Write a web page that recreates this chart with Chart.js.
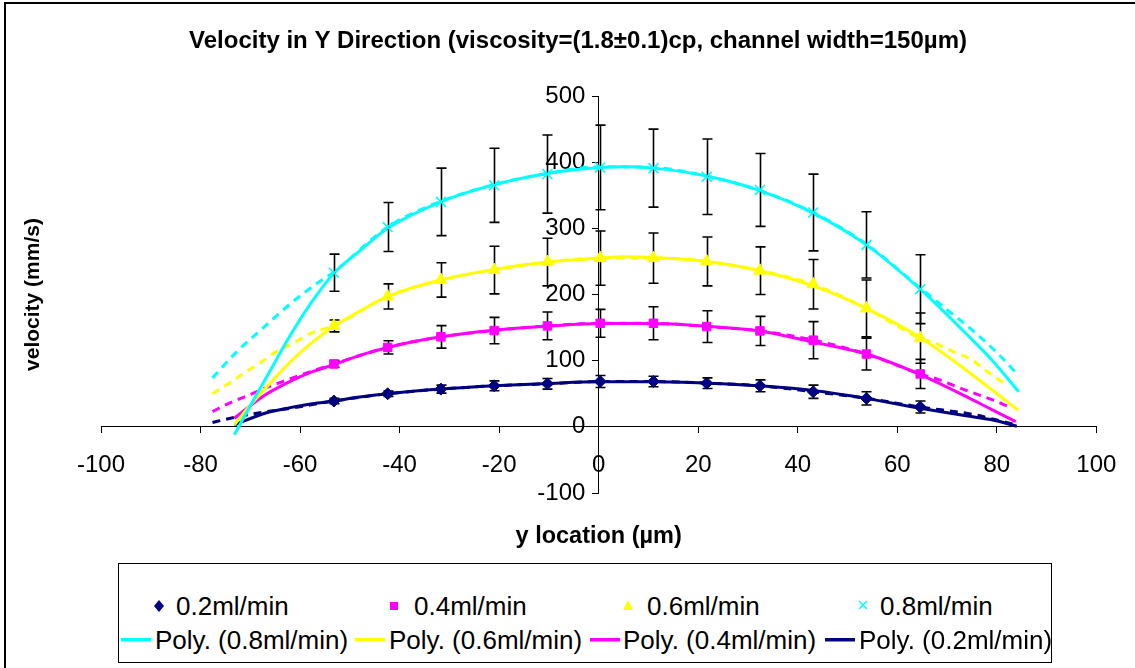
<!DOCTYPE html>
<html>
<head>
<meta charset="utf-8">
<script src="https://cdn.jsdelivr.net/npm/chart.js@4.4.1/dist/chart.umd.min.js"></script>
<style>
  html, body { margin: 0; padding: 0; background: #fff; }
  #wrap { position: relative; width: 1135px; height: 668px; overflow: hidden; background: #fff; }
  #chart { position: absolute; left: 0; top: 0; }
  #frame { position: absolute; left: 4px; top: 2px; width: 1300px; height: 900px;
           border-left: 2px solid #000; border-top: 2px solid #000; pointer-events: none; }
  #legend { position: absolute; left: 118px; top: 563px; width: 932px; height: 98px;
            border: 1px solid #000; background: #fff;
            font-family: 'Liberation Sans', Arial, sans-serif; font-size: 26px; color: #000; }
  #legend .txt { position: absolute; white-space: nowrap; line-height: 30px; }
  #legend svg { position: absolute; overflow: visible; }
</style>
</head>
<body>
<div id="wrap">
  <canvas id="chart" width="1135" height="668"></canvas>
  <div id="frame"></div>
  <div id="legend"></div>
</div>
<script>
// ---- measured velocity profiles across the channel ----
const flowRates = ['0.2ml/min', '0.4ml/min', '0.6ml/min', '0.8ml/min'];
const yLocation = [-53.2, -42.4, -31.7, -21.0, -10.3, 0.3, 11.0, 21.7, 32.4, 43.1, 53.8, 64.6];

const vel02 = [39, 50, 57, 62, 65, 68.5, 68.5, 66, 62, 53, 43, 30];
const err02 = [4, 4, 6, 7.5, 8, 9, 8, 8, 9, 10, 10, 9];
const vel04 = [95, 120, 136, 145.5, 152.5, 156.5, 156.5, 151.5, 145, 131, 110, 80];
const err04 = [5, 10, 17, 20, 21, 21, 25, 24, 22, 28, 24, 22];
const vel06 = [152.5, 197, 222, 237, 249, 255, 255, 250, 236, 215.5, 179, 134];
const err06 = [9, 19, 26, 36, 36, 41, 38, 37, 36, 37.5, 43, 38];
const vel08 = [233, 302, 340, 365, 382, 392, 391, 378, 358, 324, 275, 208];
const err08 = [28, 37, 51, 56, 59, 64, 59, 57, 55, 58, 50, 52];

// ---- polynomial trend lines (solid) ----
const polyX08 = [-73.2, -70, -66, -62, -58, -53.2, -48, -42.4, -31.7, -21, -10.3, 0.3, 5, 11, 21.7, 32.4, 43.1, 53.8, 64.6, 73.8, 79, 84.4];
const polyY08 = [-12, 32, 85, 138, 185, 232, 266, 300, 340, 366, 383, 392, 393, 391, 379, 357, 323, 275, 208, 141, 101, 53];
const polyX06 = [-73.2, -70.2, -66, -62, -58, -53.2, -48, -42.4, -31.7, -21, -10.3, 0.3, 5, 11, 21.7, 32.4, 43.1, 53.8, 64.6, 73.8, 79, 84.3];
const polyY06 = [3, 31, 66, 98, 125, 152, 175, 197, 222, 238, 249, 255, 257, 256, 250, 236, 213, 179, 135, 86, 56, 25];
const polyX04 = [-73.2, -67.5, -62.2, -58, -53.2, -48, -42.4, -31.7, -21, -10.3, 0.3, 11, 21.7, 32.4, 43.1, 53.8, 64.6, 73.8, 79, 83.8];
const polyY04 = [13, 46, 68, 82, 94, 108, 120, 136, 146, 152, 156, 156, 152, 145, 128, 110, 79, 46, 26, 8];
const polyX02 = [-73.2, -66.9, -62, -57.5, -53.2, -48, -42.4, -31.7, -21, -10.3, 0.3, 11, 21.7, 32.4, 43.1, 53.8, 64.6, 73.8, 79, 84];
const polyY02 = [3, 21, 29, 35, 39, 45, 50, 57, 62, 65.5, 68, 68, 66, 62, 55, 43, 28, 16.6, 10.6, 1];

// ---- smoothed profile lines (dashed) ----
const dashX08 = [-77.6, -72.8, -67.2, -61.8, -56.2, -53.2, -42.4, -31.7, -21, -10.3, 0.3, 11, 21.7, 32.4, 43.1, 53.8, 64.6, 70, 75.8, 81.1, 83.8];
const dashY08 = [74, 113, 151, 187, 219, 234, 302, 341, 366, 383, 393, 392, 379, 357, 324, 276, 210, 177, 141.5, 104, 82];
const dashX06 = [-77.6, -74.3, -71.3, -68, -64.7, -61, -57.7, -53.2, -42.4, -31.7, -21, -10.3, 0.3, 11, 21.7, 32.4, 43.1, 53.8, 64.6, 67.5, 71.1, 75.1, 77.1, 81.1, 82.3];
const dashY06 = [50, 66, 81, 97, 114, 128, 142, 153, 197, 222, 237, 249, 255, 255, 250, 236, 215, 179, 134, 127, 114, 101, 89, 68, 63];
const dashX04 = [-77.6, -74, -70.5, -67.2, -63.5, -60.8, -53.2, -42.4, -31.7, -21, -10.3, 0.3, 11, 21.7, 32.4, 43.1, 53.8, 64.6, 68.5, 71.8, 76.5, 79.1, 82.5];
const dashY04 = [23, 36.7, 47.3, 58, 68.4, 76, 95, 120, 136, 145.5, 152.5, 156.5, 156.5, 151.5, 145, 131, 110, 80, 71, 61, 48, 41, 30];
const dashX02 = [-77.6, -74, -66.7, -62.8, -53.2, -42.4, -31.7, -21, -10.3, 0.3, 11, 21.7, 32.4, 43.1, 53.8, 64.6, 75.8, 79.8, 83.8];
const dashY02 = [6.5, 13, 23, 27, 39, 50, 57, 62, 65, 68.5, 68.5, 66, 62, 53, 43, 30, 18, 10.6, 3];

// ---- axis ticks ----
const xTicks = [-100, -80, -60, -40, -20, 0, 20, 40, 60, 80, 100];
const yTicks = [-100, 0, 100, 200, 300, 400, 500];

const NAVY = '#000080', PINK = '#FF00FF', YELLOW = '#FFFF00', CYAN = '#00FFFF';
const FONT = "'Liberation Sans', Arial, sans-serif";
Chart.defaults.font.family = FONT;
Chart.defaults.color = '#000';

const pts = (xs, ys) => xs.map((x, i) => ({ x: x, y: ys[i] }));

const markerSeries = [
  { label: flowRates[0], values: vel02, err: err02, color: NAVY,   style: 'rectRot',  radius: 6 },
  { label: flowRates[1], values: vel04, err: err04, color: PINK,   style: 'rect',     radius: 6 },
  { label: flowRates[2], values: vel06, err: err06, color: YELLOW, style: 'triangle', radius: 7 },
  { label: flowRates[3], values: vel08, err: err08, color: CYAN,   style: 'crossRot', radius: 7 }
];

const datasets = [];
// markers first so they are painted on top
markerSeries.forEach(s => datasets.push({
  label: s.label,
  data: pts(yLocation, s.values),
  showLine: false,
  pointStyle: s.style,
  pointRadius: s.radius,
  pointBackgroundColor: s.color,
  pointBorderColor: s.color,
  pointBorderWidth: s.style === 'crossRot' ? 1.6 : 1
}));
// solid polynomial trend lines
[[polyX08, polyY08, CYAN], [polyX06, polyY06, YELLOW], [polyX04, polyY04, PINK], [polyX02, polyY02, NAVY]]
  .forEach((d, i) => datasets.push({
    label: 'Poly. (' + flowRates[3 - i] + ')',
    data: pts(d[0], d[1]),
    showLine: true, pointRadius: 0, borderColor: d[2], borderWidth: 3,
    cubicInterpolationMode: 'monotone'
  }));
// dashed smoothed profiles underneath
[[dashX08, dashY08, CYAN], [dashX06, dashY06, YELLOW], [dashX04, dashY04, PINK], [dashX02, dashY02, NAVY]]
  .forEach((d, i) => datasets.push({
    label: 'smooth ' + flowRates[3 - i],
    data: pts(d[0], d[1]),
    showLine: true, pointRadius: 0, borderColor: d[2], borderWidth: 3,
    borderDash: [8, 6],
    cubicInterpolationMode: 'monotone'
  }));

// vertical error bars with caps, painted just before the marker series
const errorBars = {
  id: 'errorBars',
  beforeDatasetDraw(chart, args) {
    if (args.index !== markerSeries.length - 1) return;
    const { ctx, scales: { x, y } } = chart;
    ctx.save();
    ctx.strokeStyle = '#000';
    ctx.lineWidth = 1.6;
    markerSeries.forEach(s => {
      s.values.forEach((v, i) => {
        const px = Math.round(x.getPixelForValue(yLocation[i])) + 0.5;
        const top = y.getPixelForValue(v + s.err[i]);
        const bot = y.getPixelForValue(v - s.err[i]);
        ctx.beginPath();
        ctx.moveTo(px, top); ctx.lineTo(px, bot);
        ctx.moveTo(px - 5, top); ctx.lineTo(px + 5, top);
        ctx.moveTo(px - 5, bot); ctx.lineTo(px + 5, bot);
        ctx.stroke();
      });
    });
    ctx.restore();
  }
};

const axisGrid = { drawOnChartArea: false, drawTicks: true, tickLength: 6, color: '#000', lineWidth: 1 };

new Chart(document.getElementById('chart'), {
  type: 'scatter',
  data: { datasets: datasets },
  plugins: [errorBars],
  options: {
    responsive: false,
    animation: false,
    devicePixelRatio: 1,
    layout: { padding: { left: 21, right: 0, top: 0, bottom: 175 } },
    plugins: {
      legend: { display: false },
      tooltip: { enabled: false },
      title: {
        display: true,
        text: 'Velocity in Y Direction (viscosity=(1.8±0.1)cp, channel width=150µm)',
        color: '#000',
        font: { family: FONT, size: 24, weight: 'bold' },
        padding: { top: 27, bottom: 40.2 }
      }
    },
    scales: {
      x: {
        type: 'linear', min: xTicks[0], max: xTicks[xTicks.length - 1],
        position: { y: 0 },
        afterBuildTicks: s => { s.ticks = xTicks.map(v => ({ value: v })); },
        ticks: { padding: 18.6, color: '#000', font: { size: 24 }, maxRotation: 0, autoSkip: false },
        grid: axisGrid,
        border: { color: '#000', width: 1 },
        title: {
          display: true, text: 'y location (µm)', color: '#000',
          font: { size: 23.5, weight: 'bold' }, padding: { top: 24, bottom: 0 }
        }
      },
      y: {
        type: 'linear', min: yTicks[0], max: yTicks[yTicks.length - 1],
        position: { x: 0 },
        afterBuildTicks: s => { s.ticks = yTicks.map(v => ({ value: v })); },
        // trailing spaces keep the right-aligned labels clear of the axis line
        ticks: { color: '#000', font: { size: 24 }, autoSkip: false, callback: v => v + '  ' },
        grid: axisGrid,
        border: { color: '#000', width: 1 }
      },
      yTitle: {
        type: 'linear', axis: 'y', position: 'left', display: true, min: 0, max: 1,
        afterFit: s => { s.width = 80; },
        ticks: { display: false },
        grid: { display: false, drawTicks: false },
        border: { display: false },
        title: {
          display: true, text: 'velocity (mm/s)', color: '#000',
          font: { size: 21, weight: 'bold' }, padding: { top: 0, bottom: 0 }
        }
      },
      yPad: {
        type: 'linear', axis: 'y', position: 'right', display: true, min: 0, max: 1,
        afterFit: s => { s.width = 34; },
        ticks: { display: false },
        grid: { display: false, drawTicks: false },
        border: { display: false }
      }
    }
  }
});

// ---- legend box: marker entries on the first row, trend lines on the second ----
const legend = document.getElementById('legend');
const LX = 119, LY = 564;
const symbolX = [159, 394, 628, 863];
const symbolTextX = [176, 414, 647, 880];
const lineX = [121, 355, 590, 825];
const lineTextX = [155, 389, 623, 859];
const row1 = 606, row2 = 640;
const svgNS = 'http://www.w3.org/2000/svg';

function addText(str, left, cy) {
  const t = document.createElement('div');
  t.className = 'txt';
  t.textContent = str;
  t.style.left = (left - LX) + 'px';
  t.style.top = (cy - LY - 15) + 'px';
  legend.appendChild(t);
}
function addSvg(left, top, w, h, inner) {
  const s = document.createElementNS(svgNS, 'svg');
  s.setAttribute('width', w); s.setAttribute('height', h);
  s.style.left = (left - LX) + 'px';
  s.style.top = (top - LY) + 'px';
  s.innerHTML = inner;
  legend.appendChild(s);
}
const legendShapes = [
  '<polygon points="5,0 10,6 5,12 0,6" fill="' + NAVY + '"/>',
  '<rect x="1" y="2" width="8" height="8" fill="' + PINK + '"/>',
  '<polygon points="5,0 10,10 0,10" fill="' + YELLOW + '"/>',
  '<path d="M1,1 L9,9 M9,1 L1,9" stroke="' + CYAN + '" stroke-width="1.5"/>'
];
markerSeries.forEach((s, i) => {
  addSvg(symbolX[i] - 5, row1 - 6, 10, 12, legendShapes[i]);
  addText(s.label, symbolTextX[i], row1);
});
const trendColors = [CYAN, YELLOW, PINK, NAVY];
trendColors.forEach((c, i) => {
  addSvg(lineX[i], row2 - 2, 30, 4, '<rect x="0" y="0" width="30" height="3.5" fill="' + c + '"/>');
  addText('Poly. (' + flowRates[3 - i] + ')', lineTextX[i], row2);
});
</script>
</body>
</html>
